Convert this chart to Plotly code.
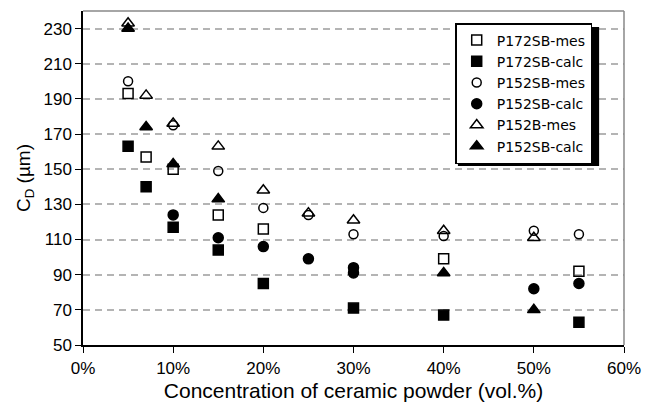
import plotly.graph_objects as go

# Measured (mes) and calculated (calc) C_D values vs. ceramic powder concentration
p172sb_mes_x = [0.05, 0.07, 0.10, 0.15, 0.20, 0.40, 0.55]
p172sb_mes_y = [193, 157, 150, 124, 116, 99, 92]

p172sb_calc_x = [0.05, 0.07, 0.10, 0.15, 0.20, 0.30, 0.40, 0.55]
p172sb_calc_y = [163, 140, 117, 104, 85, 71, 67, 63]

p152sb_mes_x = [0.05, 0.10, 0.15, 0.20, 0.25, 0.30, 0.40, 0.50, 0.55]
p152sb_mes_y = [200, 175, 149, 128, 124, 113, 112, 115, 113]

p152sb_calc_x = [0.10, 0.15, 0.20, 0.25, 0.30, 0.30, 0.50, 0.55]
p152sb_calc_y = [124, 111, 106, 99, 94, 91, 82, 85]

p152b_mes_x = [0.05, 0.07, 0.10, 0.15, 0.20, 0.25, 0.30, 0.40, 0.50]
p152b_mes_y = [233, 192, 176, 163, 138, 125, 121, 115, 111]

p152sb_calc2_x = [0.05, 0.07, 0.10, 0.15, 0.40, 0.50]
p152sb_calc2_y = [230, 174, 153, 133, 91, 70]

x_ticks = [0, 0.1, 0.2, 0.3, 0.4, 0.5, 0.6]
y_ticks = [50, 70, 90, 110, 130, 150, 170, 190, 210, 230]

FONT = "Liberation Sans, Arial, sans-serif"

series = [
    ("P172SB-mes", p172sb_mes_x, p172sb_mes_y, "square-open", 10),
    ("P172SB-calc", p172sb_calc_x, p172sb_calc_y, "square", 10),
    ("P152SB-mes", p152sb_mes_x, p152sb_mes_y, "circle-open", 9),
    ("P152SB-calc", p152sb_calc_x, p152sb_calc_y, "circle", 10),
    ("P152B-mes", p152b_mes_x, p152b_mes_y, "triangle-up-open", 11),
    ("P152SB-calc", p152sb_calc2_x, p152sb_calc2_y, "triangle-up", 11),
]

fig = go.Figure()
for name, xs, ys, sym, sz in series:
    fig.add_trace(go.Scatter(
        x=xs, y=ys, mode="markers", name=name,
        marker=dict(symbol=sym, size=sz, color="black",
                    line=dict(color="black", width=1.5)),
    ))

# light grey frame on the top and right sides of the plot area
fig.add_shape(type="line", xref="paper", yref="paper", x0=0, x1=1, y0=1, y1=1,
              line=dict(color="#888888", width=1.5))
fig.add_shape(type="line", xref="paper", yref="paper", x0=1, x1=1, y0=0, y1=1,
              line=dict(color="#888888", width=1.5))

# drop shadow under the legend box (legend is drawn on top of it)
fig.add_shape(type="rect", xref="paper", yref="paper",
              x0=0.693, x1=0.954, y0=0.536, y1=0.952,
              fillcolor="black", line=dict(width=0), layer="above")

fig.update_layout(
    width=645, height=407,
    margin=dict(l=83, r=21, t=11, b=62),
    paper_bgcolor="white", plot_bgcolor="white",
    font=dict(family=FONT, size=17, color="black"),
    showlegend=True,
    legend=dict(
        x=0.688, y=0.964, xanchor="left", yanchor="top",
        bgcolor="white", bordercolor="black", borderwidth=1.5,
        font=dict(family="DejaVu Sans, sans-serif", size=14, color="black"),
        tracegroupgap=0, itemwidth=30,
    ),
    xaxis=dict(
        range=[0, 0.6], tickvals=x_ticks, tickformat=".0%",
        showgrid=False, zeroline=False, automargin=False,
        showline=True, linecolor="black", linewidth=1.5,
        ticks="outside", ticklen=6, tickcolor="black",
        tickfont=dict(size=17), ticklabelstandoff=1,
        title=dict(text="Concentration of ceramic powder (vol.%)",
                   font=dict(size=21), standoff=6),
    ),
    yaxis=dict(
        range=[50, 240], tickvals=y_ticks,
        showgrid=True, gridcolor="#b4b4b4", gridwidth=1.5, griddash="7px,5px",
        zeroline=False, automargin=False,
        showline=True, linecolor="black", linewidth=1.5,
        ticks="outside", ticklen=6, tickcolor="black",
        tickfont=dict(size=17),
        title=dict(text="C<sub>D</sub> (µm)", font=dict(size=19), standoff=8),
    ),
)

fig.write_html("out.html")
